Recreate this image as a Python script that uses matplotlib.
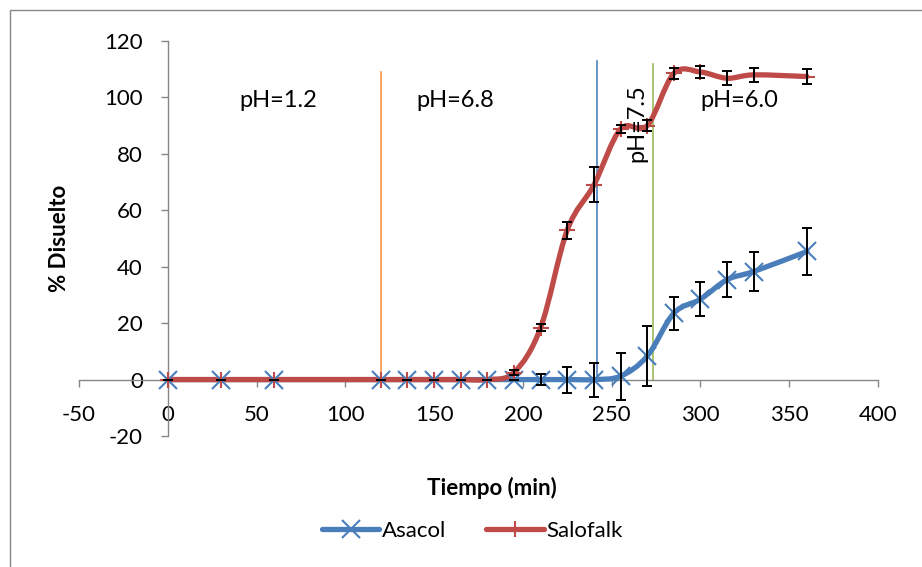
import numpy as np
import matplotlib
matplotlib.use("Agg")
import matplotlib.pyplot as plt
from matplotlib.path import Path
from matplotlib.patches import PathPatch, Rectangle
from matplotlib.lines import Line2D

plt.rcParams['font.family'] = ['Lato', 'DejaVu Sans']
plt.rcParams['axes.unicode_minus'] = False

# data
tiempo = [0, 30, 60, 120, 135, 150, 165, 180, 195, 210, 225, 240, 255, 270, 285, 300, 315, 330, 360]
asacol = [0, 0, 0, 0, 0, 0, 0, 0, 0, 0, 0, 0, 1.2, 8.3, 23.5, 28.5, 35.4, 38.3, 45.4]
asacol_err = [0, 0, 0, 0, 0, 0, 0, 0, 0, 1.8, 4.6, 6.0, 8.3, 10.6, 5.8, 6.0, 6.2, 7.0, 8.4]
salofalk = [0, 0, 0, 0, 0, 0, 0, 0, 2.5, 18.4, 53.0, 69.0, 88.8, 90.0, 108.5, 109.0, 106.8, 108.0, 107.4]
salofalk_err = [0, 0, 0, 0, 0, 0, 0, 0, 1.0, 1.2, 3.0, 6.2, 1.5, 2.0, 2.0, 2.0, 2.5, 2.5, 2.5]

ph_lines_x = [120, 241.5, 273]
ph_lines_top = [109, 113, 112]
ph_line_colors = ['#F79646', '#4F81BD', '#9BBB59']

ph_labels = ['pH=1.2', 'pH=6.8', 'pH=7.5', 'pH=6.0']
ph_label_x = [62, 162, 264, 322]
ph_label_y = [99, 99, 91, 99]
ph_label_rot = [0, 0, 90, 0]

BLUE = '#4A7EBB'
RED = '#BE4B48'


def smooth_path(xs, ys, tension=6.0):
    # catmull-rom style bezier, like excel's smoothed line
    xs = np.asarray(xs, float)
    ys = np.asarray(ys, float)
    pts = np.column_stack([xs, ys])
    verts = [pts[0]]
    codes = [Path.MOVETO]
    n = len(pts)
    for i in range(n - 1):
        p0 = pts[i - 1] if i > 0 else pts[i]
        p1 = pts[i]
        p2 = pts[i + 1]
        p3 = pts[i + 2] if i + 2 < n else pts[i + 1]
        c1 = p1 + (p2 - p0) / tension
        c2 = p2 - (p3 - p1) / tension
        verts += [c1, c2, p2]
        codes += [Path.CURVE4] * 3
    return Path(verts, codes)


fig = plt.figure(figsize=(9.22, 5.67), dpi=100)
ax = fig.add_axes([79 / 922, 131 / 567, 799 / 922, 395 / 567])

# frame around the chart (right and bottom edges run off the picture)
fig.patches.append(Rectangle((10 / 922, -0.05), 1.0, 557 / 567 + 0.05,
                             transform=fig.transFigure, fill=False,
                             edgecolor='#868686', linewidth=1.0))

for xv, top, c in zip(ph_lines_x, ph_lines_top, ph_line_colors):
    ax.plot([xv, xv], [0, top], color=c, linewidth=1.2, zorder=2)

for ys, err, color, mk in [(asacol, asacol_err, BLUE, 'x'), (salofalk, salofalk_err, RED, '+')]:
    ax.add_patch(PathPatch(smooth_path(tiempo, ys), facecolor='none', edgecolor=color,
                           linewidth=3.8, capstyle='round', zorder=3))
    ax.plot(tiempo, ys, linestyle='none', marker=mk, markersize=13 if mk == 'x' else 12,
            markeredgewidth=1.5, color=color, zorder=4)
    ax.errorbar(tiempo, ys, yerr=err, fmt='none', ecolor='black', elinewidth=1.4,
                capsize=3.5, capthick=1.4, zorder=5)

for txt, tx, ty, rot in zip(ph_labels, ph_label_x, ph_label_y, ph_label_rot):
    ax.text(tx, ty, txt, fontsize=17, rotation=rot, ha='center', va='center', zorder=6)

ax.set_xlim(-50, 400)
ax.set_ylim(-20, 120)
ax.set_xticks(np.arange(-50, 401, 50))
ax.set_yticks(np.arange(-20, 121, 20))
ax.spines['left'].set_position(('data', 0))
ax.spines['bottom'].set_position(('data', 0))
ax.spines['top'].set_visible(False)
ax.spines['right'].set_visible(False)
for s in ['left', 'bottom']:
    ax.spines[s].set_color('#868686')
    ax.spines[s].set_linewidth(1.0)
ax.tick_params(axis='both', colors='#868686', labelcolor='black', labelsize=16,
               length=5, width=1.0, direction='out')
ax.tick_params(axis='y', pad=13)
ax.tick_params(axis='x', pad=13)

fig.text(60 / 922, 1 - 238 / 567, '% Disuelto', rotation=90, fontsize=16,
         fontweight='bold', ha='center', va='center')
fig.text(492 / 922, 1 - 488 / 567, 'Tiempo (min)', fontsize=16,
         fontweight='bold', ha='center', va='center')

handles = [Line2D([], [], color=BLUE, linewidth=3.8, marker='x', markersize=13,
                  markeredgewidth=1.5, solid_capstyle='round'),
           Line2D([], [], color=RED, linewidth=3.8, marker='+', markersize=12,
                  markeredgewidth=1.5, solid_capstyle='round')]
fig.legend(handles, ['Asacol', 'Salofalk'], loc='center', bbox_to_anchor=(472 / 922, 1 - 531 / 567),
           ncol=2, frameon=False, fontsize=16, handlelength=2.6, handletextpad=0.1,
           columnspacing=1.8)

fig.savefig('out.png', dpi=100)
